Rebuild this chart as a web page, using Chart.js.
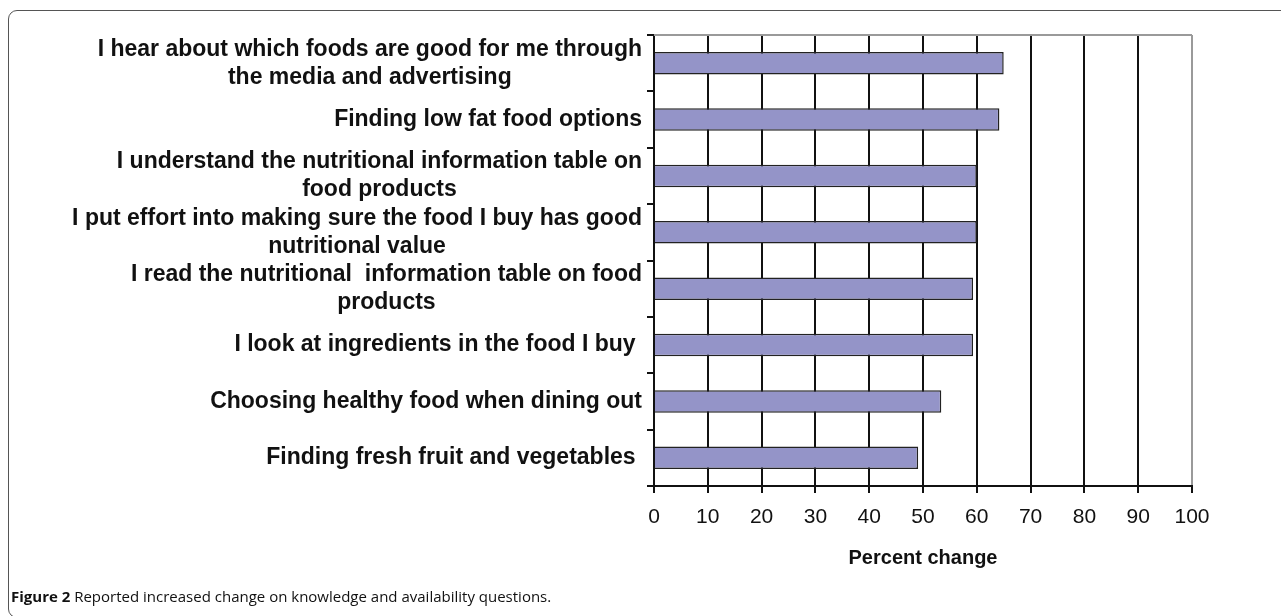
<!DOCTYPE html>
<html>
<head>
<meta charset="utf-8">
<script src="https://cdn.jsdelivr.net/npm/chart.js@4.4.1/dist/chart.umd.min.js"></script>
<style>
  html, body { margin: 0; padding: 0; background: #fff; }
  body { width: 1281px; height: 616px; position: relative; overflow: hidden; }
  #frame {
    position: absolute; left: 8px; top: 10px; width: 1300px; height: 608px;
    border: 1.5px solid #555; border-radius: 9px; box-sizing: border-box;
  }
  #wrap { position: absolute; left: 0; top: 0; width: 1281px; height: 616px; }
  #caption {
    position: absolute; left: 11px; top: 586px;
    font-family: "Open Sans", sans-serif; font-size: 15px; color: #111; white-space: nowrap;
  }
  #caption b { font-weight: 700; }
</style>
</head>
<body>
<div id="frame"></div>
<div id="wrap"><canvas id="chart" width="1281" height="616"></canvas></div>
<div id="caption"><b>Figure 2</b> Reported increased change on knowledge and availability questions.</div>
<script>
// survey items, top to bottom (each entry is the wrapped lines of the label)
const questions = [
  ['I hear about which foods are good for me through', 'the media and advertising'],
  ['Finding low fat food options'],
  ['I understand the nutritional information table on', 'food products'],
  ['I put effort into making sure the food I buy has good', 'nutritional value'],
  ['I read the nutritional  information table on food', 'products'],
  ['I look at ingredients in the food I buy '],
  ['Choosing healthy food when dining out'],
  ['Finding fresh fruit and vegetables '],
];
const percentChange = [65, 64.2, 60, 60, 59.3, 59.3, 53.4, 49.1];
const xTicks = [0, 10, 20, 30, 40, 50, 60, 70, 80, 90, 100];

const labelFont = 'bold 23px "Liberation Sans", Arial, sans-serif';

// wrapped y labels: each block centred on itself, block right-aligned to the axis
const questionLabels = {
  id: 'questionLabels',
  afterDraw(chart) {
    const { ctx } = chart;
    const y = chart.scales.y;
    const rightEdge = chart.chartArea.left - 12;
    const lineH = 28;
    ctx.save();
    ctx.font = labelFont;
    ctx.fillStyle = '#111';
    ctx.textAlign = 'center';
    ctx.textBaseline = 'middle';
    questions.forEach((lines, i) => {
      const yc = y.getPixelForValue(i);
      const w = Math.max(...lines.map(l => ctx.measureText(l).width));
      const cx = rightEdge - w / 2;
      const y0 = yc - (lines.length - 1) * lineH / 2;
      lines.forEach((l, j) => ctx.fillText(l, cx, y0 + j * lineH));
    });
    ctx.restore();
  }
};

// grey top border of the plot area
const plotBorder = {
  id: 'plotBorder',
  beforeDatasetsDraw(chart) {
    const { ctx, chartArea: a } = chart;
    ctx.save();
    ctx.strokeStyle = '#9a9a9a';
    ctx.lineWidth = 2;
    ctx.beginPath();
    ctx.moveTo(a.left, a.top);
    ctx.lineTo(a.right, a.top);
    ctx.stroke();
    ctx.restore();
  }
};

new Chart(document.getElementById('chart'), {
  type: 'bar',
  data: {
    labels: questions.map(q => q.join(' ')),
    datasets: [{
      data: percentChange,
      backgroundColor: '#9494c8',
      borderColor: '#222',
      borderWidth: 1.5,
      barPercentage: 0.4,
      categoryPercentage: 1,
    }],
  },
  options: {
    indexAxis: 'y',
    responsive: false,
    animation: false,
    layout: { padding: { left: 647, right: 89, top: 35, bottom: 40 } },
    plugins: { legend: { display: false }, tooltip: { enabled: false } },
    scales: {
      x: {
        min: 0,
        max: 100,
        afterFit: (s) => { s.height = 90; },
        afterBuildTicks: (s) => { s.ticks = xTicks.map(v => ({ value: v })); },
        border: { color: '#111', width: 2 },
        grid: {
          color: (c) => (c.tick && c.tick.value === 100 ? '#9a9a9a' : '#111'),
          tickColor: '#111',
          lineWidth: 2,
          tickLength: 7,
        },
        ticks: {
          color: '#111',
          padding: 12,
          font: { family: '"Liberation Sans", Arial, sans-serif', size: 21 },
        },
        title: {
          display: true,
          text: 'Percent change',
          color: '#111',
          padding: { top: 4, bottom: 6 },
          font: { family: '"Liberation Sans", Arial, sans-serif', size: 20, weight: 'bold' },
        },
      },
      y: {
        afterFit: (s) => { s.width = 7; },
        border: { color: '#111', width: 2 },
        grid: { drawOnChartArea: false, color: '#111', lineWidth: 2, tickLength: 7 },
        ticks: { display: false },
      },
    },
  },
  plugins: [plotBorder, questionLabels],
});
</script>
</body>
</html>
